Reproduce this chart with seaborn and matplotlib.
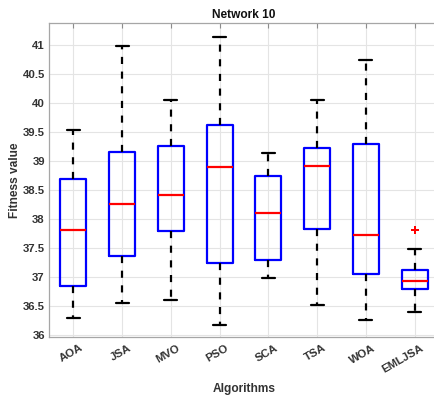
import numpy as np
import pandas as pd
import matplotlib
matplotlib.use("Agg")
import matplotlib.pyplot as plt
import matplotlib.transforms as mtransforms
import seaborn as sns

# Five-number summaries of the fitness values per algorithm
algorithms = ["AOA", "JSA", "MVO", "PSO", "SCA", "TSA", "WOA", "EMLJSA"]
whisker_low = [36.30, 36.56, 36.60, 36.18, 36.99, 36.51, 36.25, 36.39]
q1 = [36.85, 37.37, 37.79, 37.25, 37.30, 37.83, 37.06, 36.79]
median = [37.82, 38.26, 38.42, 38.90, 38.10, 38.92, 37.73, 36.93]
q3 = [38.69, 39.15, 39.26, 39.62, 38.75, 39.23, 39.29, 37.12]
whisker_high = [39.54, 40.99, 40.06, 41.15, 39.14, 40.05, 40.75, 37.48]

# Points lying outside the whiskers
outlier_alg = ["EMLJSA"]
outlier_val = [37.82]

yticks = [36, 36.5, 37, 37.5, 38, 38.5, 39, 39.5, 40, 40.5, 41]

rows = []
for i, alg in enumerate(algorithms):
    for v in (whisker_low[i], q1[i], median[i], q3[i], whisker_high[i]):
        rows.append({"Algorithm": alg, "Fitness": v})
df = pd.DataFrame(rows)

sns.set_style("whitegrid")
plt.rcParams["font.family"] = ["Liberation Sans", "DejaVu Sans"]
plt.rcParams["font.weight"] = "bold"

fig = plt.figure(figsize=(4.34, 3.97), dpi=100)
ax = fig.add_axes([49 / 434, 1 - 337.3 / 397, 390 / 434, (337.3 - 23.3) / 397])

sns.boxplot(
    data=df, x="Algorithm", y="Fitness", order=algorithms, ax=ax,
    width=0.53, fill=False, whis=(0, 100), linecolor="blue", linewidth=1.6,
    boxprops=dict(color="blue", linewidth=1.6),
    medianprops=dict(color="red", linewidth=1.6),
    whiskerprops=dict(color="black", linewidth=1.6, linestyle=(0, (3.2, 3.4))),
    capprops=dict(color="black", linewidth=1.6),
    showfliers=False,
)
sns.stripplot(
    x=outlier_alg, y=outlier_val, order=algorithms, ax=ax, jitter=False,
    marker="P", color="red", size=5.5, linewidth=0,
)

ax.set_ylim(35.96, 41.38)
ax.set_yticks(yticks)
ax.set_yticklabels([f"{t:g}" for t in yticks])
ax.set_xlim(-0.5, 7.5)

ax.grid(True, color="#e4e4e4", linewidth=0.8)
for s in ax.spines.values():
    s.set_visible(True)
    s.set_color("#a6a6a6")
    s.set_linewidth(0.9)

ax.tick_params(axis="both", direction="in", length=3.5, width=0.8, color="#8c8c8c",
               top=True, right=True, labelsize=8.2, labelcolor="#333333", pad=3)
ax.tick_params(axis="x", pad=4)

offset = mtransforms.ScaledTranslation(6 / 100, 0, fig.dpi_scale_trans)
for lab in ax.get_xticklabels():
    lab.set_rotation(30)
    lab.set_ha("right")
    lab.set_va("top")
    lab.set_rotation_mode("anchor")
    lab.set_fontweight("bold")
    lab.set_transform(lab.get_transform() + offset)
for lab in ax.get_yticklabels():
    lab.set_fontweight("bold")

ax.set_title("Network 10", fontsize=8.6, fontweight="bold", color="#111111", pad=4)
ax.set_xlabel("Algorithms", fontsize=8.6, fontweight="bold", color="#333333", labelpad=6)
ax.set_ylabel("Fitness value", fontsize=8.6, fontweight="bold", color="#333333", labelpad=1)

fig.savefig("out.png", dpi=100)
